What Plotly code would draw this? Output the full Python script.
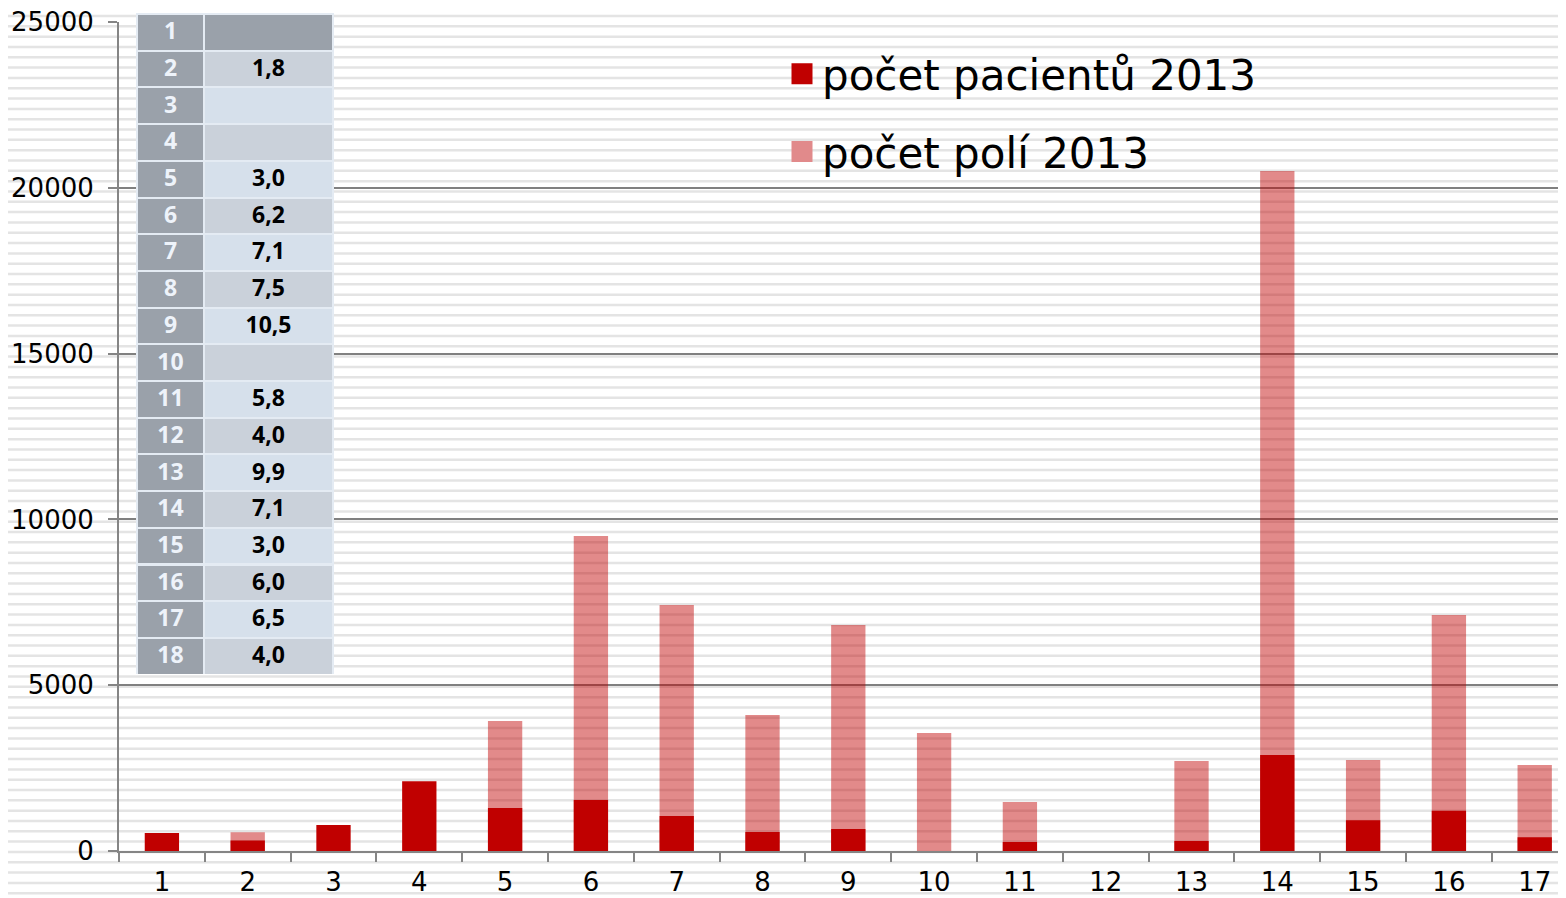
import plotly.graph_objects as go

# ---- data ----
categories = [str(i) for i in range(1, 18)]
patients_2013 = [540, 320, 785, 2100, 1300, 1540, 1055, 575, 665, 0, 270, 0, 300, 2895, 925, 1215, 415]
fields_2013 = [0, 565, 0, 0, 3920, 9500, 7420, 4100, 6815, 3560, 1480, 0, 2715, 20510, 2745, 7115, 2595]

table_rows = [str(i) for i in range(1, 19)]
table_values = ["", "1,8", "", "", "3,0", "6,2", "7,1", "7,5", "10,5", "",
                "5,8", "4,0", "9,9", "7,1", "3,0", "6,0", "6,5", "4,0"]

y_ticks = [0, 5000, 10000, 15000, 20000, 25000]

# ---- styling ----
RED = "#c00000"
PINK = "rgba(192,0,0,0.46)"
PINK_SOLID = "#e18a8b"
FONT = "DejaVu Sans"
OFF = 8  # page body margin
W, H = 1566 - OFF, 898 - OFF
M_L, M_R, M_T, M_B = 119 - OFF, 0, 14 - OFF, 47
plot_w = W - M_L
plot_h = H - M_T - M_B
axis_top_ref = 22
plot_bottom_ref = 851


def py_to_paper(py_ref):
    return (plot_bottom_ref - py_ref) / plot_h


def px_to_paper(px_ref):
    return (px_ref - 119) / plot_w


fig = go.Figure()

fig.add_trace(go.Bar(x=categories, y=patients_2013, name="počet pacientů 2013",
                     marker=dict(color=RED, line=dict(width=0)), width=0.4,
                     showlegend=False))
fig.add_trace(go.Bar(x=categories, y=fields_2013, name="počet polí 2013",
                     marker=dict(color=PINK, line=dict(width=0)), width=0.4,
                     showlegend=False))

# legend entries
fig.add_trace(go.Scatter(x=[None], y=[None], mode="markers", name="počet pacientů 2013",
                         legendgroup="a",
                         marker=dict(symbol="square", size=16, color=RED,
                                     line=dict(width=5, color=RED))))
fig.add_trace(go.Scatter(x=[None], y=[None], mode="markers", name="počet polí 2013",
                         legendgroup="b",
                         marker=dict(symbol="square", size=16, color=PINK_SOLID,
                                     line=dict(width=5, color=PINK_SOLID))))

# table
DARK = "#9aa1aa"
LIGHT_A = "#cad1da"
LIGHT_B = "#d6e0eb"
col2_fill = [LIGHT_A if int(r) % 2 == 0 else LIGHT_B for r in table_rows[1:]]
ROW_H = 36.7
tab_bottom_ref = 14 + 18 * ROW_H
TFONT = "Noto Sans"
fig.add_trace(go.Table(
    domain=dict(x=[px_to_paper(137), px_to_paper(333)],
                y=[py_to_paper(tab_bottom_ref), 1.0]),
    columnwidth=[67, 129],
    header=dict(values=[table_rows[0], table_values[0]],
                fill=dict(color=DARK),
                line=dict(color="#e4ebf3", width=2),
                align="center", height=ROW_H,
                font=dict(family=TFONT, size=23, color="#eef3fa", weight="bold")),
    cells=dict(values=[table_rows[1:], table_values[1:]],
               fill=dict(color=[[DARK] * 17, col2_fill]),
               line=dict(color="#e4ebf3", width=2),
               align="center", height=ROW_H,
               font=dict(family=TFONT, size=23, color=["#eef3fa", "#000000"], weight="bold")),
))

# background stripes
shapes = []
for k in range(1, 88):
    py = 5.7 + 10.32 * k
    if py > 898:
        break
    yp = py_to_paper(py)
    shapes.append(dict(type="line", xref="paper", yref="paper",
                       x0=-M_L / plot_w, x1=1.0, y0=yp, y1=yp,
                       line=dict(color="#e4e4e4", width=2.5), layer="below"))

fig.update_layout(
    width=W, height=H,
    margin=dict(l=M_L, r=M_R, t=M_T, b=M_B, pad=0, autoexpand=False),
    paper_bgcolor="white", plot_bgcolor="rgba(0,0,0,0)",
    barmode="overlay",
    font=dict(family=FONT, color="black"),
    shapes=shapes,
    showlegend=True,
    legend=dict(x=px_to_paper(782), y=py_to_paper(40),
                xanchor="left", yanchor="top",
                bgcolor="rgba(0,0,0,0)", borderwidth=0,
                font=dict(family=FONT, size=42, color="black"),
                traceorder="grouped", tracegroupgap=20),
    xaxis=dict(type="category", range=[-0.5, plot_w / 85.8 - 0.5],
               showgrid=False, showline=True, linecolor="#858585", linewidth=2,
               ticks="outside", tickson="boundaries", ticklen=9, tickwidth=2,
               tickcolor="#858585", ticklabelstandoff=7,
               ticklabeloverflow="allow", automargin=False,
               tickfont=dict(family=FONT, size=26, color="black"),
               zeroline=False, fixedrange=True),
    yaxis=dict(range=[0, 25000], domain=[0, py_to_paper(axis_top_ref)],
               tickvals=y_ticks, tickformat="d",
               showgrid=True, gridcolor="#808080", gridwidth=1.6,
               showline=True, linecolor="#858585", linewidth=2,
               ticks="outside", ticklen=9, tickwidth=2, tickcolor="#858585",
               ticklabelstandoff=9, ticklabeloverflow="allow", automargin=False,
               tickfont=dict(family=FONT, size=26, color="black"),
               zeroline=False, fixedrange=True),
)

fig.write_html("out.html")
